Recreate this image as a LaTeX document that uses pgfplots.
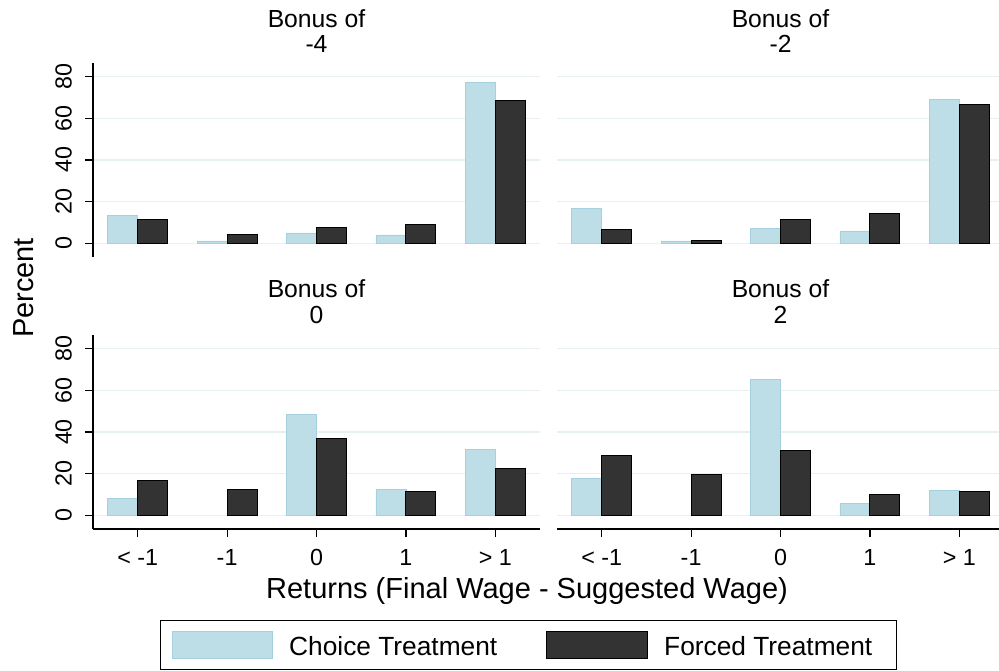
\documentclass[border=0pt]{standalone}
\usepackage{fontspec}
\setmainfont{Liberation Sans}
\usepackage{pgfplots}
\pgfplotsset{compat=1.18}
\definecolor{choice}{RGB}{189,222,231}
\definecolor{choiceedge}{RGB}{165,208,222}
\definecolor{forced}{RGB}{51,51,51}
\definecolor{gridc}{RGB}{233,240,242}
\newcommand\tickfont{\fontsize{23.3}{26}\selectfont}
\newcommand\titlefont{\fontsize{24.7}{27}\selectfont}
\newcommand\labfont{\fontsize{29}{32}\selectfont}
\newcommand\legfont{\fontsize{26.3}{29}\selectfont}
\pgfplotsset{
  panel/.style={
    scale only axis, width=447pt, height=194pt,
    xmin=0.5, xmax=5.5, ymin=-6.6, ymax=86.6,
    ybar=0pt, bar width=30pt, clip=false,
    axis x line*=bottom, axis y line*=left,
    x axis line style={-}, y axis line style={-},
    axis line style={line width=1.2pt},
    xtick={1,2,3,4,5}, xticklabels={< -1,-1,0,1,> 1},
    ytick={0,20,40,60,80},
    ymajorgrids, grid style={gridc, line width=1.4pt},
    tick align=outside, major tick length=8pt,
    tick style={black, line width=1.2pt},
    /pgf/number format/assume math mode=true,
    ticklabel style={font=\tickfont},
    yticklabel style={rotate=90, anchor=south, inner sep=0pt},
    xticklabel style={anchor=north, inner sep=0pt},
    yticklabel shift=13pt, xticklabel shift=12pt,
  },
  choicebar/.style={fill=choice, draw=choiceedge, line width=0.6pt},
  forcedbar/.style={fill=forced, draw=black, line width=1pt},
  notopx/.style={xtick=\empty, x axis line style={draw=none}},
  noy/.style={y axis line style={draw=none}, ytick style={draw=none}, yticklabels={}},
}
\begin{document}
\begin{tikzpicture}
% Top-left: Bonus of -4
\begin{axis}[panel, notopx, at={(93pt,413pt)}, anchor=south west]
\addplot[choicebar] coordinates {(1,13.4) (2,1.1) (3,5.0) (4,4.0) (5,77.3)};
\addplot[forcedbar] coordinates {(1,11.2) (2,4.0) (3,7.5) (4,8.8) (5,68.6)};
\node[font=\titlefont, anchor=base, yshift=35pt] at (rel axis cs:0.5,1) {Bonus of};
\node[font=\titlefont, anchor=base, yshift=10pt] at (rel axis cs:0.5,1) {-4};
\end{axis}
% Top-right: Bonus of -2
\begin{axis}[panel, notopx, noy, at={(557pt,413pt)}, anchor=south west]
\addplot[choicebar] coordinates {(1,16.8) (2,1.1) (3,7.2) (4,5.9) (5,69.1)};
\addplot[forcedbar] coordinates {(1,6.4) (2,1.3) (3,11.5) (4,14.1) (5,66.7)};
\node[font=\titlefont, anchor=base, yshift=35pt] at (rel axis cs:0.5,1) {Bonus of};
\node[font=\titlefont, anchor=base, yshift=10pt] at (rel axis cs:0.5,1) {-2};
\end{axis}
% Bottom-left: Bonus of 0
\begin{axis}[panel, at={(93pt,141pt)}, anchor=south west]
\addplot[choicebar] coordinates {(1,8.0) (3,48.3) (4,12.5) (5,31.5)};
\addplot[forcedbar] coordinates {(1,16.8) (2,12.6) (3,36.8) (4,11.4) (5,22.7)};
\node[font=\titlefont, anchor=base, yshift=37pt] at (rel axis cs:0.5,1) {Bonus of};
\node[font=\titlefont, anchor=base, yshift=11pt] at (rel axis cs:0.5,1) {0};
\end{axis}
% Bottom-right: Bonus of 2
\begin{axis}[panel, noy, at={(557pt,141pt)}, anchor=south west]
\addplot[choicebar] coordinates {(1,17.6) (3,65.1) (4,5.8) (5,12.0)};
\addplot[forcedbar] coordinates {(1,28.5) (2,19.8) (3,31.0) (4,10.1) (5,11.2)};
\node[font=\titlefont, anchor=base, yshift=37pt] at (rel axis cs:0.5,1) {Bonus of};
\node[font=\titlefont, anchor=base, yshift=11pt] at (rel axis cs:0.5,1) {2};
\end{axis}
% Labels
\node[font=\labfont, rotate=90] at (24pt,382pt) {Percent};
\node[font=\labfont, anchor=base] at (527pt,72pt) {Returns (Final Wage - Suggested Wage)};
% Legend
\draw[line width=1pt] (160pt,1pt) rectangle (896pt,50pt);
\filldraw[fill=choice, draw=choiceedge, line width=0.6pt] (172pt,12pt) rectangle (272pt,38.3pt);
\node[font=\legfont, anchor=base west, inner sep=0pt] at (289pt,14.3pt) {Choice Treatment};
\filldraw[fill=forced, draw=black, line width=1pt] (546.5pt,12pt) rectangle (647pt,38.3pt);
\node[font=\legfont, anchor=base west, inner sep=0pt] at (664pt,14.3pt) {Forced Treatment};
\pgfresetboundingbox
\path[use as bounding box] (0pt,0pt) rectangle (999pt,670pt);
\end{tikzpicture}
\end{document}
